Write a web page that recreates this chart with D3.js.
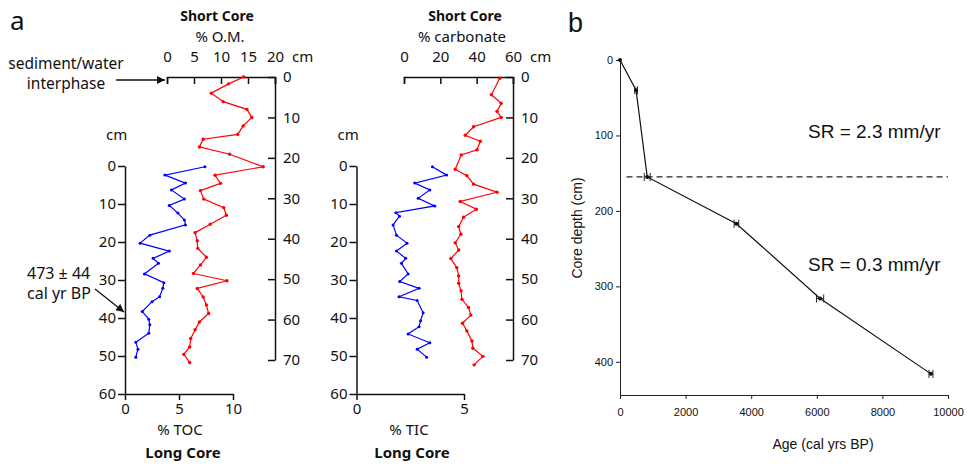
<!DOCTYPE html>
<html>
<head>
<meta charset="utf-8">
<script src="https://cdn.jsdelivr.net/npm/d3@7"></script>
<style>
body { margin: 0; background: #fff; }
svg text { font-family: "Noto Sans", sans-serif; fill: #111; }
.pb text { font-family: "Liberation Sans", Arial, sans-serif; }
</style>
</head>
<body>
<svg id="chart" width="968" height="469"></svg>
<script>
// short core, % organic matter (red)
const omDepth = [0, 1.7, 4.0, 6.1, 8.0, 10.0, 12.1, 14.2, 15.4, 17.3, 19.1, 22.2, 24.3, 26.3, 28.1, 30.2, 32.3, 34.2, 36.4, 38.5, 40.5, 42.4, 44.6, 46.5, 48.6, 50.4, 52.3, 54.4, 56.4, 58.5, 60.6, 62.5, 64.7, 66.8, 68.6, 70.6];
const omValue = [14.2, 11.4, 8.2, 10.4, 14.8, 15.7, 14.1, 13.1, 6.7, 6.0, 11.6, 17.8, 8.9, 9.9, 6.2, 6.8, 10.5, 11.0, 8.0, 5.2, 5.6, 5.7, 7.3, 6.2, 4.9, 11.1, 5.6, 6.7, 7.3, 7.7, 6.0, 5.2, 4.4, 4.2, 3.1, 4.2];

// long core, % TOC (blue)
const tocDepth = [0.2, 2.4, 4.5, 6.3, 8.7, 10.4, 12.4, 14.2, 15.5, 18.2, 20.3, 22.4, 24.3, 25.6, 28.4, 30.7, 32.2, 34.4, 35.7, 38.3, 40.3, 41.8, 44.0, 46.4, 48.2, 50.3];
const tocValue = [7.4, 3.7, 5.6, 4.3, 5.5, 4.1, 4.9, 5.5, 5.6, 2.3, 1.4, 4.1, 2.6, 3.1, 1.8, 3.6, 3.5, 3.2, 2.5, 1.6, 2.2, 2.3, 2.2, 1.0, 1.2, 1.0];

// short core, % carbonate (red)
const carbDepth = [0.3, 4.4, 6.5, 8.5, 10, 12.3, 14.4, 15.9, 18, 19.3, 22.8, 24.4, 26.5, 28.5, 30.8, 32.7, 34.7, 37, 38.9, 41, 42.8, 44.9, 47.2, 49.2, 51, 52.9, 55, 57, 58.9, 60.9, 62.8, 65.3, 67.1, 69.1, 71.2];
const carbValue = [52.7, 48.1, 53.5, 51.2, 53.5, 38.3, 33.7, 42.0, 40.2, 31.5, 28.2, 34.6, 38.3, 51.2, 30.9, 39.8, 32.8, 30.1, 31.3, 28.2, 30.1, 25.8, 29.1, 30.1, 30.1, 31.4, 31.9, 35.5, 36.8, 32.2, 34.6, 37.4, 37.9, 43.4, 38.6];

// long core, % TIC (blue)
const ticDepth = [0.2, 2.4, 4.5, 6.3, 8.5, 10.5, 12.3, 13.2, 15.5, 18.2, 20.3, 22.4, 24.3, 25.6, 28.4, 30.4, 32.2, 34.4, 35.4, 38.6, 40.7, 42.3, 44.2, 46.5, 48.2, 50.3];
const ticValue = [3.53, 4.19, 2.71, 3.41, 2.87, 3.64, 1.83, 2.0, 1.70, 1.86, 2.35, 1.86, 2.29, 2.09, 2.40, 2.01, 2.91, 1.98, 2.82, 3.10, 2.98, 2.91, 2.40, 3.41, 2.82, 3.26];

// age model (panel b)
const ageYears = [0, 490, 830, 3550, 6100, 9480];
const ageDepth = [0, 40, 155, 217, 316, 416];
const ageErr = [0, 40, 90, 70, 110, 60];
const boundaryDepth = 155;

// tick labels
const shortDepthTicks = [0, 10, 20, 30, 40, 50, 60, 70];
const longDepthTicks = [0, 10, 20, 30, 40, 50, 60];
const omTicks = [0, 5, 10, 15, 20];
const carbTicks = [0, 20, 40, 60];
const tocTicks = [0, 5, 10];
const ticTicks = [0, 5];
const ageTicks = [0, 2000, 4000, 6000, 8000, 10000];
const coreDepthTicks = [0, 100, 200, 300, 400];

const svg = d3.select("#chart");
const fmt = d3.format("d");

svg.append("defs").append("marker")
    .attr("id", "arrow")
    .attr("viewBox", "0 0 10 10")
    .attr("refX", 10).attr("refY", 5)
    .attr("markerWidth", 9).attr("markerHeight", 8)
    .attr("markerUnits", "userSpaceOnUse")
    .attr("orient", "auto")
    .append("path").attr("d", "M0,0L10,5L0,10z").attr("fill", "#111");

const thick = g => {
    g.selectAll("path, line").attr("stroke", "#111").attr("stroke-width", 1.5);
    g.selectAll("text").attr("fill", "#111").style("font-size", "15px");
};

// draws one profile panel (short core on top/right axes, long core on bottom/left axes)
function profile(opt) {
    const xS = d3.scaleLinear().domain(opt.shortDomain).range(opt.shortRange);
    const yS = d3.scaleLinear().domain([0, 70]).range([77, 360]);
    const xL = d3.scaleLinear().domain(opt.longDomain).range(opt.longRange);
    const yL = d3.scaleLinear().domain([0, 60]).range([166, 394]);

    svg.append("g")
        .attr("transform", `translate(0,${yS(0)})`)
        .call(d3.axisTop(xS).tickValues(opt.shortTicks).tickFormat(fmt).tickSizeInner(-7).tickSizeOuter(-7).tickPadding(15))
        .call(thick);

    svg.append("g")
        .attr("transform", `translate(${xS.range()[1]},0)`)
        .call(d3.axisRight(yS).tickValues(shortDepthTicks).tickFormat(fmt).tickSizeInner(-7).tickSizeOuter(0).tickPadding(8))
        .call(thick);

    svg.append("g")
        .attr("transform", `translate(${xL.range()[0]},0)`)
        .call(d3.axisLeft(yL).tickValues(longDepthTicks).tickFormat(fmt).tickSize(7).tickSizeOuter(0).tickPadding(2))
        .call(thick);

    svg.append("g")
        .attr("transform", `translate(0,${yL(60)})`)
        .call(d3.axisBottom(xL).tickValues(opt.longTicks).tickFormat(fmt).tickSize(6).tickSizeOuter(0).tickPadding(3))
        .call(thick);

    const lineS = d3.line().x(d => xS(d[1])).y(d => yS(d[0]));
    const lineL = d3.line().x(d => xL(d[1])).y(d => yL(d[0]));
    const sData = d3.zip(opt.sDepth, opt.sValue);
    const lData = d3.zip(opt.lDepth, opt.lValue);

    svg.append("path").datum(sData).attr("d", lineS)
        .attr("fill", "none").attr("stroke", "#f00").attr("stroke-width", 1.2);
    svg.append("g").selectAll("circle").data(sData).join("circle")
        .attr("cx", d => xS(d[1])).attr("cy", d => yS(d[0])).attr("r", 1.7).attr("fill", "#f00");

    svg.append("path").datum(lData).attr("d", lineL)
        .attr("fill", "none").attr("stroke", "#00f").attr("stroke-width", 1.2);
    svg.append("g").selectAll("circle").data(lData).join("circle")
        .attr("cx", d => xL(d[1])).attr("cy", d => yL(d[0])).attr("r", 1.5).attr("fill", "#00f");

    // titles
    const cx = opt.titleX;
    svg.append("text").attr("x", cx).attr("y", 21).attr("text-anchor", "middle")
        .style("font-size", "14px").style("font-weight", "bold").text("Short Core");
    svg.append("text").attr("x", cx + opt.subDx).attr("y", 42).attr("text-anchor", "middle")
        .style("font-size", "15px").text(opt.shortLabel);
    svg.append("text").attr("x", xS.range()[1] + 17).attr("y", 62)
        .style("font-size", "15px").text("cm");
    svg.append("text").attr("x", xL.range()[0] - 19).attr("y", 140)
        .style("font-size", "15px").text("cm");
    svg.append("text").attr("x", opt.longLabelX).attr("y", 435).attr("text-anchor", "middle")
        .style("font-size", "15px").text(opt.longLabel);
    svg.append("text").attr("x", opt.longLabelX + 3).attr("y", 458).attr("text-anchor", "middle")
        .style("font-size", "15px").style("font-weight", "bold").text("Long Core");
}

profile({
    shortDomain: [0, 20], shortRange: [167, 275], shortTicks: omTicks,
    longDomain: [0, 10], longRange: [125, 233], longTicks: tocTicks,
    sDepth: omDepth, sValue: omValue, lDepth: tocDepth, lValue: tocValue,
    titleX: 217, subDx: 3, shortLabel: "% O.M.", longLabel: "% TOC", longLabelX: 180
});

profile({
    shortDomain: [0, 60], shortRange: [404, 513], shortTicks: carbTicks,
    longDomain: [0, 5], longRange: [356.5, 464], longTicks: ticTicks,
    sDepth: carbDepth, sValue: carbValue, lDepth: ticDepth, lValue: ticValue,
    titleX: 465, subDx: -3, shortLabel: "% carbonate", longLabel: "% TIC", longLabelX: 409
});

// panel a annotations
svg.append("text").attr("x", 10).attr("y", 30).style("font-size", "26px").text("a");
svg.append("text").attr("x", 66).attr("y", 69).attr("text-anchor", "middle")
    .style("font-size", "15.5px").text("sediment/water");
svg.append("text").attr("x", 66).attr("y", 89).attr("text-anchor", "middle")
    .style("font-size", "15.5px").text("interphase");
svg.append("line").attr("x1", 116).attr("y1", 80).attr("x2", 165).attr("y2", 80)
    .attr("stroke", "#111").attr("stroke-width", 1.3).attr("marker-end", "url(#arrow)");
svg.append("text").attr("x", 27).attr("y", 279).style("font-size", "16px").text("473 ± 44");
svg.append("text").attr("x", 27).attr("y", 299).style("font-size", "16px").text("cal yr BP");
svg.append("line").attr("x1", 95).attr("y1", 289).attr("x2", 124).attr("y2", 312)
    .attr("stroke", "#111").attr("stroke-width", 1.3).attr("marker-end", "url(#arrow)");

// panel b: age model
const pb = svg.append("g").attr("class", "pb");
const xAge = d3.scaleLinear().domain([0, 10000]).range([620, 948]);
const yDepth = d3.scaleLinear().domain([0, 444]).range([60, 395]);

const thin = g => {
    g.selectAll("path, line").attr("stroke", "#222").attr("stroke-width", 1);
    g.selectAll("text").attr("fill", "#222").style("font-size", "11px")
        .style("font-family", "'Liberation Sans', Arial, sans-serif");
};

pb.append("g").attr("transform", `translate(620,0)`)
    .call(d3.axisLeft(yDepth).tickValues(coreDepthTicks).tickFormat(fmt).tickSize(4).tickSizeOuter(0).tickPadding(3))
    .call(thin);
pb.append("g").attr("transform", `translate(0,395)`)
    .call(d3.axisBottom(xAge).tickValues(ageTicks).tickFormat(fmt).tickSize(4).tickSizeOuter(0).tickPadding(9))
    .call(thin);

pb.append("line")
    .attr("x1", xAge(200)).attr("x2", xAge(10000))
    .attr("y1", yDepth(boundaryDepth)).attr("y2", yDepth(boundaryDepth))
    .attr("stroke", "#222").attr("stroke-width", 1.3).attr("stroke-dasharray", "6,4");

const ageData = ageYears.map((a, i) => ({ age: a, depth: ageDepth[i], err: ageErr[i] }));

pb.append("path").datum(ageData)
    .attr("d", d3.line().x(d => xAge(d.age)).y(d => yDepth(d.depth)))
    .attr("fill", "none").attr("stroke", "#111").attr("stroke-width", 1.2);

const eb = pb.append("g").selectAll("g").data(ageData.filter(d => d.err > 0)).join("g")
    .attr("stroke", "#222").attr("stroke-width", 1);
eb.append("line").attr("x1", d => xAge(d.age - d.err)).attr("x2", d => xAge(d.age + d.err))
    .attr("y1", d => yDepth(d.depth)).attr("y2", d => yDepth(d.depth));
eb.append("line").attr("x1", d => xAge(d.age - d.err)).attr("x2", d => xAge(d.age - d.err))
    .attr("y1", d => yDepth(d.depth) - 4).attr("y2", d => yDepth(d.depth) + 4);
eb.append("line").attr("x1", d => xAge(d.age + d.err)).attr("x2", d => xAge(d.age + d.err))
    .attr("y1", d => yDepth(d.depth) - 4).attr("y2", d => yDepth(d.depth) + 4);

pb.append("g").selectAll("circle").data(ageData).join("circle")
    .attr("cx", d => xAge(d.age)).attr("cy", d => yDepth(d.depth)).attr("r", 2).attr("fill", "#111");

pb.append("text").attr("x", 568).attr("y", 32).style("font-size", "27px").text("b");
pb.append("text").attr("x", 808).attr("y", 138).style("font-size", "19px").text("SR = 2.3 mm/yr");
pb.append("text").attr("x", 808).attr("y", 271).style("font-size", "19px").text("SR = 0.3 mm/yr");
pb.append("text").attr("transform", "translate(582,228) rotate(-90)").attr("text-anchor", "middle")
    .style("font-size", "14px").text("Core depth (cm)");
pb.append("text").attr("x", 823).attr("y", 449).attr("text-anchor", "middle")
    .style("font-size", "14px").text("Age (cal yrs BP)");
</script>
</body>
</html>
